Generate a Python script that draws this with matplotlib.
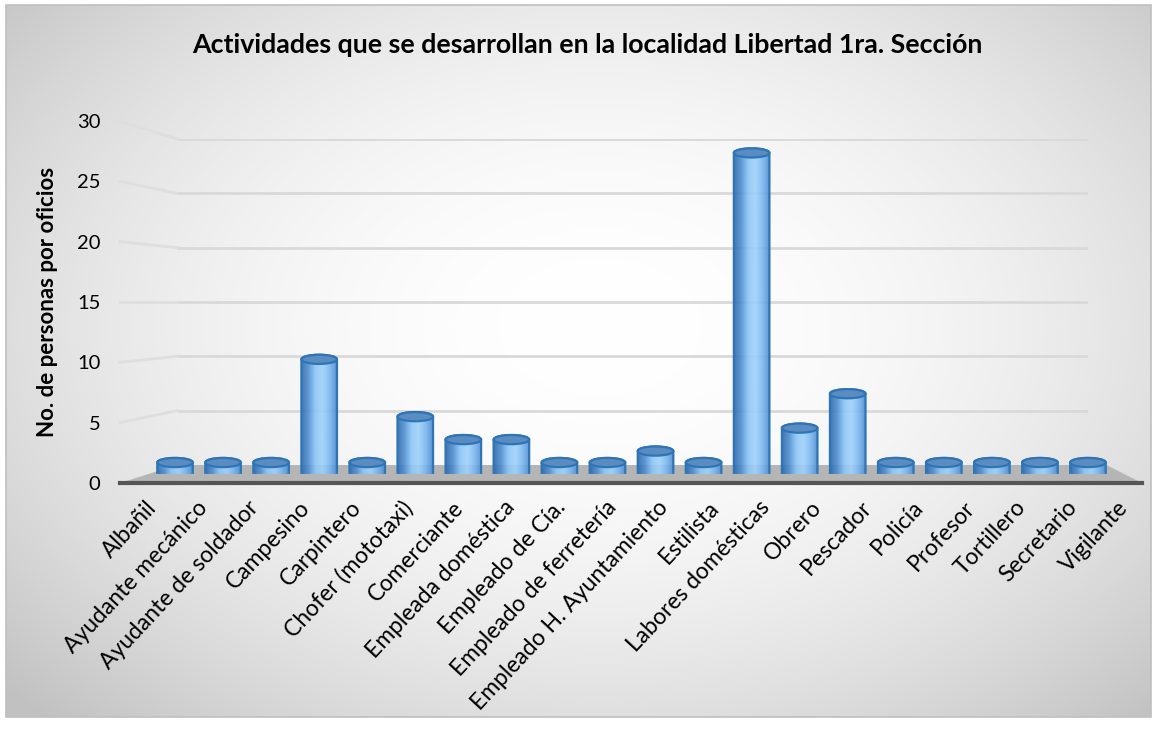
import matplotlib
matplotlib.use('Agg')
import matplotlib.pyplot as plt
import numpy as np
from matplotlib.patches import Ellipse, Polygon, Rectangle, PathPatch
from matplotlib.path import Path
from matplotlib.lines import Line2D
from matplotlib.colors import LinearSegmentedColormap

plt.rcParams['font.family'] = ['Lato', 'DejaVu Sans']

# datos
categories = ['Albañil', 'Ayudante mecánico', 'Ayudante de soldador', 'Campesino',
              'Carpintero', 'Chofer (mototaxi)', 'Comerciante', 'Empleada doméstica',
              'Empleado de Cía.', 'Empleado de ferretería', 'Empleado H. Ayuntamiento',
              'Estilista', 'Labores domésticas', 'Obrero', 'Pescador', 'Policía',
              'Profesor', 'Tortillero', 'Secretario', 'Vigilante']
values = [1, 1, 1, 10, 1, 5, 3, 3, 1, 1, 2, 1, 28, 4, 7, 1, 1, 1, 1, 1]
yticks = [0, 5, 10, 15, 20, 25, 30]

title = 'Actividades que se desarrollan en la localidad Libertad 1ra. Sección'
ylabel = 'No. de personas por oficios'

W, H = 1158, 732
fig = plt.figure(figsize=(W / 100, H / 100), dpi=100)
fig.patch.set_facecolor('white')


def box(x0, x1, ytop, ybot):
    # pixel box -> figure fraction rect
    return [x0 / W, 1 - ybot / H, (x1 - x0) / W, (ybot - ytop) / H]


# fondo con degradado radial
bg = fig.add_axes([0, 0, 1, 1])
bg.set_axis_off()
bg.set_xlim(0, W)
bg.set_ylim(H, 0)
yy, xx = np.mgrid[0:H, 0:W]
r2 = ((xx - 600) / 700.0) ** 2 + ((yy - 330) / 480.0) ** 2
shade = np.clip(1 - 0.18 * r2, 0.76, 1.0)
bg.imshow(np.dstack([shade] * 3), extent=[6, 1151, 717, 5], aspect='auto', zorder=0)
bg.add_patch(Rectangle((6, 5), 1145, 712, fill=False, edgecolor='#bfbfbf', lw=1.2, zorder=1))

# eje frontal (etiquetas)
ax_f = fig.add_axes(box(120, 1142, 121, 483))
ax_f.set_xlim(-0.5, len(categories) - 0.5)
ax_f.set_ylim(0, 30)
ax_f.patch.set_visible(False)
for s in ax_f.spines.values():
    s.set_visible(False)
ax_f.set_yticks(yticks)
ax_f.set_yticklabels([str(t) for t in yticks], fontsize=14.5)
ax_f.set_xticks(range(len(categories)))
ax_f.set_xticklabels(categories, rotation=47, ha='right', va='top',
                     rotation_mode='anchor', fontsize=16.5)
ax_f.tick_params(axis='y', length=0, pad=14)
ax_f.tick_params(axis='x', length=0, pad=10)
ax_f.set_ylabel(ylabel, fontsize=16, fontweight='bold', labelpad=14)

# pared del fondo (lineas de division)
ax_w = fig.add_axes(box(177, 1088, 139, 465))
ax_w.set_xlim(0, 1)
ax_w.set_ylim(0, 30)
ax_w.set_axis_off()
for t in yticks[1:]:
    ax_w.plot([0, 1], [t, t], color='#d9d9d9', lw=2, solid_capstyle='butt')

to_fig = fig.transFigure.inverted()
for t in yticks[1:]:
    p0 = to_fig.transform(ax_f.transData.transform((-0.5, t)))
    p1 = to_fig.transform(ax_w.transData.transform((0, t)))
    fig.add_artist(Line2D([p0[0], p1[0]], [p0[1], p1[1]], color='#dedede', lw=2,
                          transform=fig.transFigure))

# piso
fl = [ax_f.transData.transform((-0.5, 0)), ax_w.transData.transform((0, 0)),
      ax_w.transData.transform((1.02, 0)), ax_f.transData.transform((len(categories) - 0.5, 0))]
fl = to_fig.transform(np.array(fl))
fig.add_artist(Polygon(fl, closed=True, facecolor='#b5b5b5', edgecolor='none',
                       transform=fig.transFigure, zorder=1))
fig.add_artist(Line2D([fl[0][0], fl[3][0]], [fl[0][1], fl[3][1]], color='#555555', lw=3,
                      transform=fig.transFigure, zorder=2))

# cilindros
ax = fig.add_axes(box(151, 1112, 130, 474))
ax.set_zorder(5)
ax.set_axis_off()
ax.patch.set_visible(False)
bw = 0.74
eh = 0.8
cmap = LinearSegmentedColormap.from_list('cyl', ['#2f69a8', '#4f8fd2', '#8cc6f7', '#9fd2fb',
                                                 '#7ab8ef', '#4b8ad0'])
grad = np.linspace(0, 1, 64)[None, :]

for i, v in enumerate(values):
    x0, x1 = i - bw / 2, i + bw / 2
    th = np.linspace(np.pi, 2 * np.pi, 40)
    bot = np.column_stack([i + bw / 2 * np.cos(th), eh / 2 * np.sin(th)])
    th2 = np.linspace(0, np.pi, 40)
    top = np.column_stack([i + bw / 2 * np.cos(th2), v + eh / 2 * np.sin(th2)])
    verts = np.vstack([bot, top, bot[:1]])
    body = PathPatch(Path(verts, closed=True), facecolor='none', edgecolor='#2e75b6',
                     lw=1.6, zorder=3)
    ax.add_patch(body)
    im = ax.imshow(grad, cmap=cmap, extent=[x0, x1, -eh, v + eh], aspect='auto',
                   alpha=0.9, zorder=2)
    im.set_clip_path(body)
    # borde delantero de la base
    ax.plot(bot[:, 0], bot[:, 1], color='#5b9bd5', lw=1, alpha=0.6, zorder=3)
    ax.add_patch(Ellipse((i, v), bw, eh, facecolor='#5a8cc2', edgecolor='#2e75b6',
                         lw=1.6, zorder=4))

ax.set_xlim(-0.5, len(categories) - 0.5)
ax.set_ylim(0, 30)

fig.text(587 / W, 1 - 45 / H, title, ha='center', va='center', fontsize=19.3,
         fontweight='bold')

fig.savefig('out.png', dpi=100)
